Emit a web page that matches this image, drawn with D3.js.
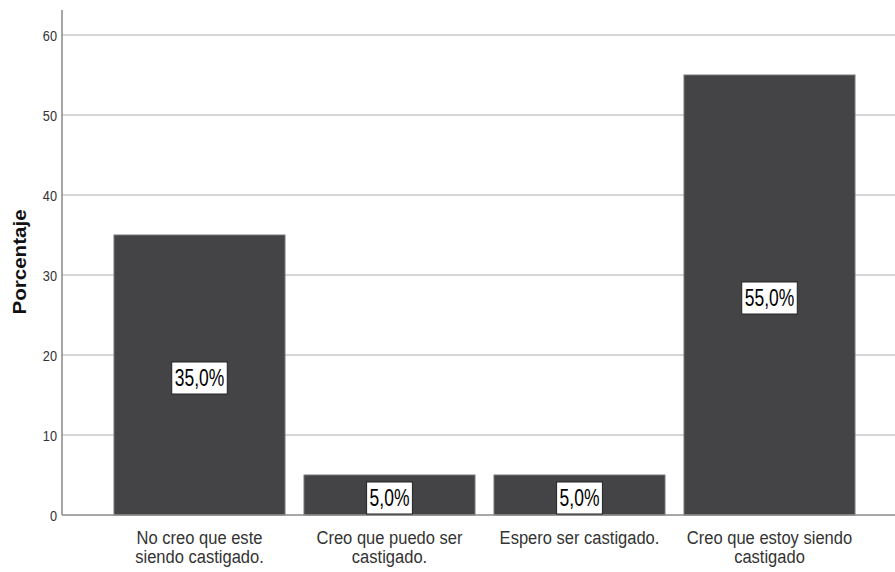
<!DOCTYPE html>
<html>
<head>
<meta charset="utf-8">
<script src="https://cdn.jsdelivr.net/npm/d3@7/dist/d3.min.js"></script>
<style>
  html, body { margin: 0; padding: 0; background: #fff; }
  svg { display: block; }
  text { font-family: "Liberation Sans", Arial, sans-serif; }
</style>
</head>
<body>
<svg id="chart" width="895" height="572"></svg>
<script>
// Response categories (each label split into display lines)
const categories = [
  ["No creo que este", "siendo castigado."],
  ["Creo que puedo ser", "castigado."],
  ["Espero ser castigado."],
  ["Creo que estoy siendo", "castigado"]
];
// Percentage per category
const values = [35, 5, 5, 55];
// Y axis ticks
const yTicks = [0, 10, 20, 30, 40, 50, 60];
const yTitle = "Porcentaje";

const svg = d3.select("#chart");
const W = 895;
const axisX = 62, baseY = 515;

// Text is drawn tall and narrow: glyphs squeezed horizontally
const SX = 0.85;

const y = d3.scaleLinear().domain([0, 60]).range([baseY, 35]);
const x = d3.scaleBand()
  .domain(d3.range(categories.length))
  .range([104.5, 864.5])
  .paddingInner(0.1)
  .paddingOuter(0.05);

// Horizontal gridlines
svg.append("g").selectAll("line")
  .data(yTicks.filter(d => d > 0))
  .join("line")
  .attr("x1", axisX).attr("x2", W)
  .attr("y1", d => y(d)).attr("y2", d => y(d))
  .attr("stroke", "#d6d6d6").attr("stroke-width", 2);

// Bars
svg.append("g").selectAll("rect")
  .data(values)
  .join("rect")
  .attr("x", (d, i) => x(i))
  .attr("width", x.bandwidth())
  .attr("y", d => y(d))
  .attr("height", d => baseY - y(d))
  .attr("fill", "#444446")
  .attr("stroke", "#77777a")
  .attr("stroke-width", 1);

// Y axis tick labels
const ticks = svg.append("g").selectAll("g")
  .data(yTicks)
  .join("g")
  .attr("transform", d => `translate(57,${y(d)}) scale(${SX},1)`);
ticks.append("text")
  .attr("text-anchor", "end")
  .attr("dy", "0.42em")
  .attr("font-size", 15)
  .attr("fill", "#333")
  .text(d => d);

// Axis lines
svg.append("line")
  .attr("x1", axisX).attr("x2", axisX)
  .attr("y1", 10).attr("y2", baseY)
  .attr("stroke", "#8a8a8a").attr("stroke-width", 1.5);
svg.append("line")
  .attr("x1", axisX).attr("x2", W)
  .attr("y1", baseY).attr("y2", baseY)
  .attr("stroke", "#8a8a8a").attr("stroke-width", 1.5);

// Axis title (rotated; stretched along its length)
svg.append("g")
  .attr("transform", `translate(26,262) rotate(-90) scale(${1 / SX},1)`)
  .append("text")
  .attr("text-anchor", "middle")
  .attr("font-size", 17.5)
  .attr("font-weight", "bold")
  .attr("fill", "#111")
  .text(yTitle);

// Category labels
const cat = svg.append("g").selectAll("g")
  .data(categories)
  .join("g")
  .attr("transform", (d, i) => `translate(${x(i) + x.bandwidth() / 2},544) scale(${SX + 0.02},1)`);
cat.append("text")
  .attr("text-anchor", "middle")
  .attr("font-size", 19)
  .attr("fill", "#333")
  .selectAll("tspan")
  .data(d => d)
  .join("tspan")
  .attr("x", 0)
  .attr("dy", (d, j) => j === 0 ? 0 : 19.5)
  .text(d => d);

// Value labels in boxes
const fmt = v => v.toFixed(1).replace(".", ",") + "%";
const LSX = 0.76;
const lab = svg.append("g").selectAll("g")
  .data(values)
  .join("g")
  .attr("transform", (d, i) => `translate(${x(i) + x.bandwidth() / 2},${y(d / 2) + 3})`);
lab.append("g")
  .attr("transform", `scale(${LSX},1)`)
  .append("text")
  .attr("text-anchor", "middle")
  .attr("dy", "0.36em")
  .attr("font-size", 23)
  .attr("fill", "#000")
  .text(d => fmt(d));
lab.each(function () {
  const g = d3.select(this);
  const bb = g.select("text").node().getBBox();
  const w = bb.width * LSX;
  g.insert("rect", "g")
    .attr("x", -w / 2 - 3)
    .attr("y", -16)
    .attr("width", w + 6)
    .attr("height", 32)
    .attr("fill", "#fff")
    .attr("stroke", "#222")
    .attr("stroke-width", 1);
});
</script>
</body>
</html>
